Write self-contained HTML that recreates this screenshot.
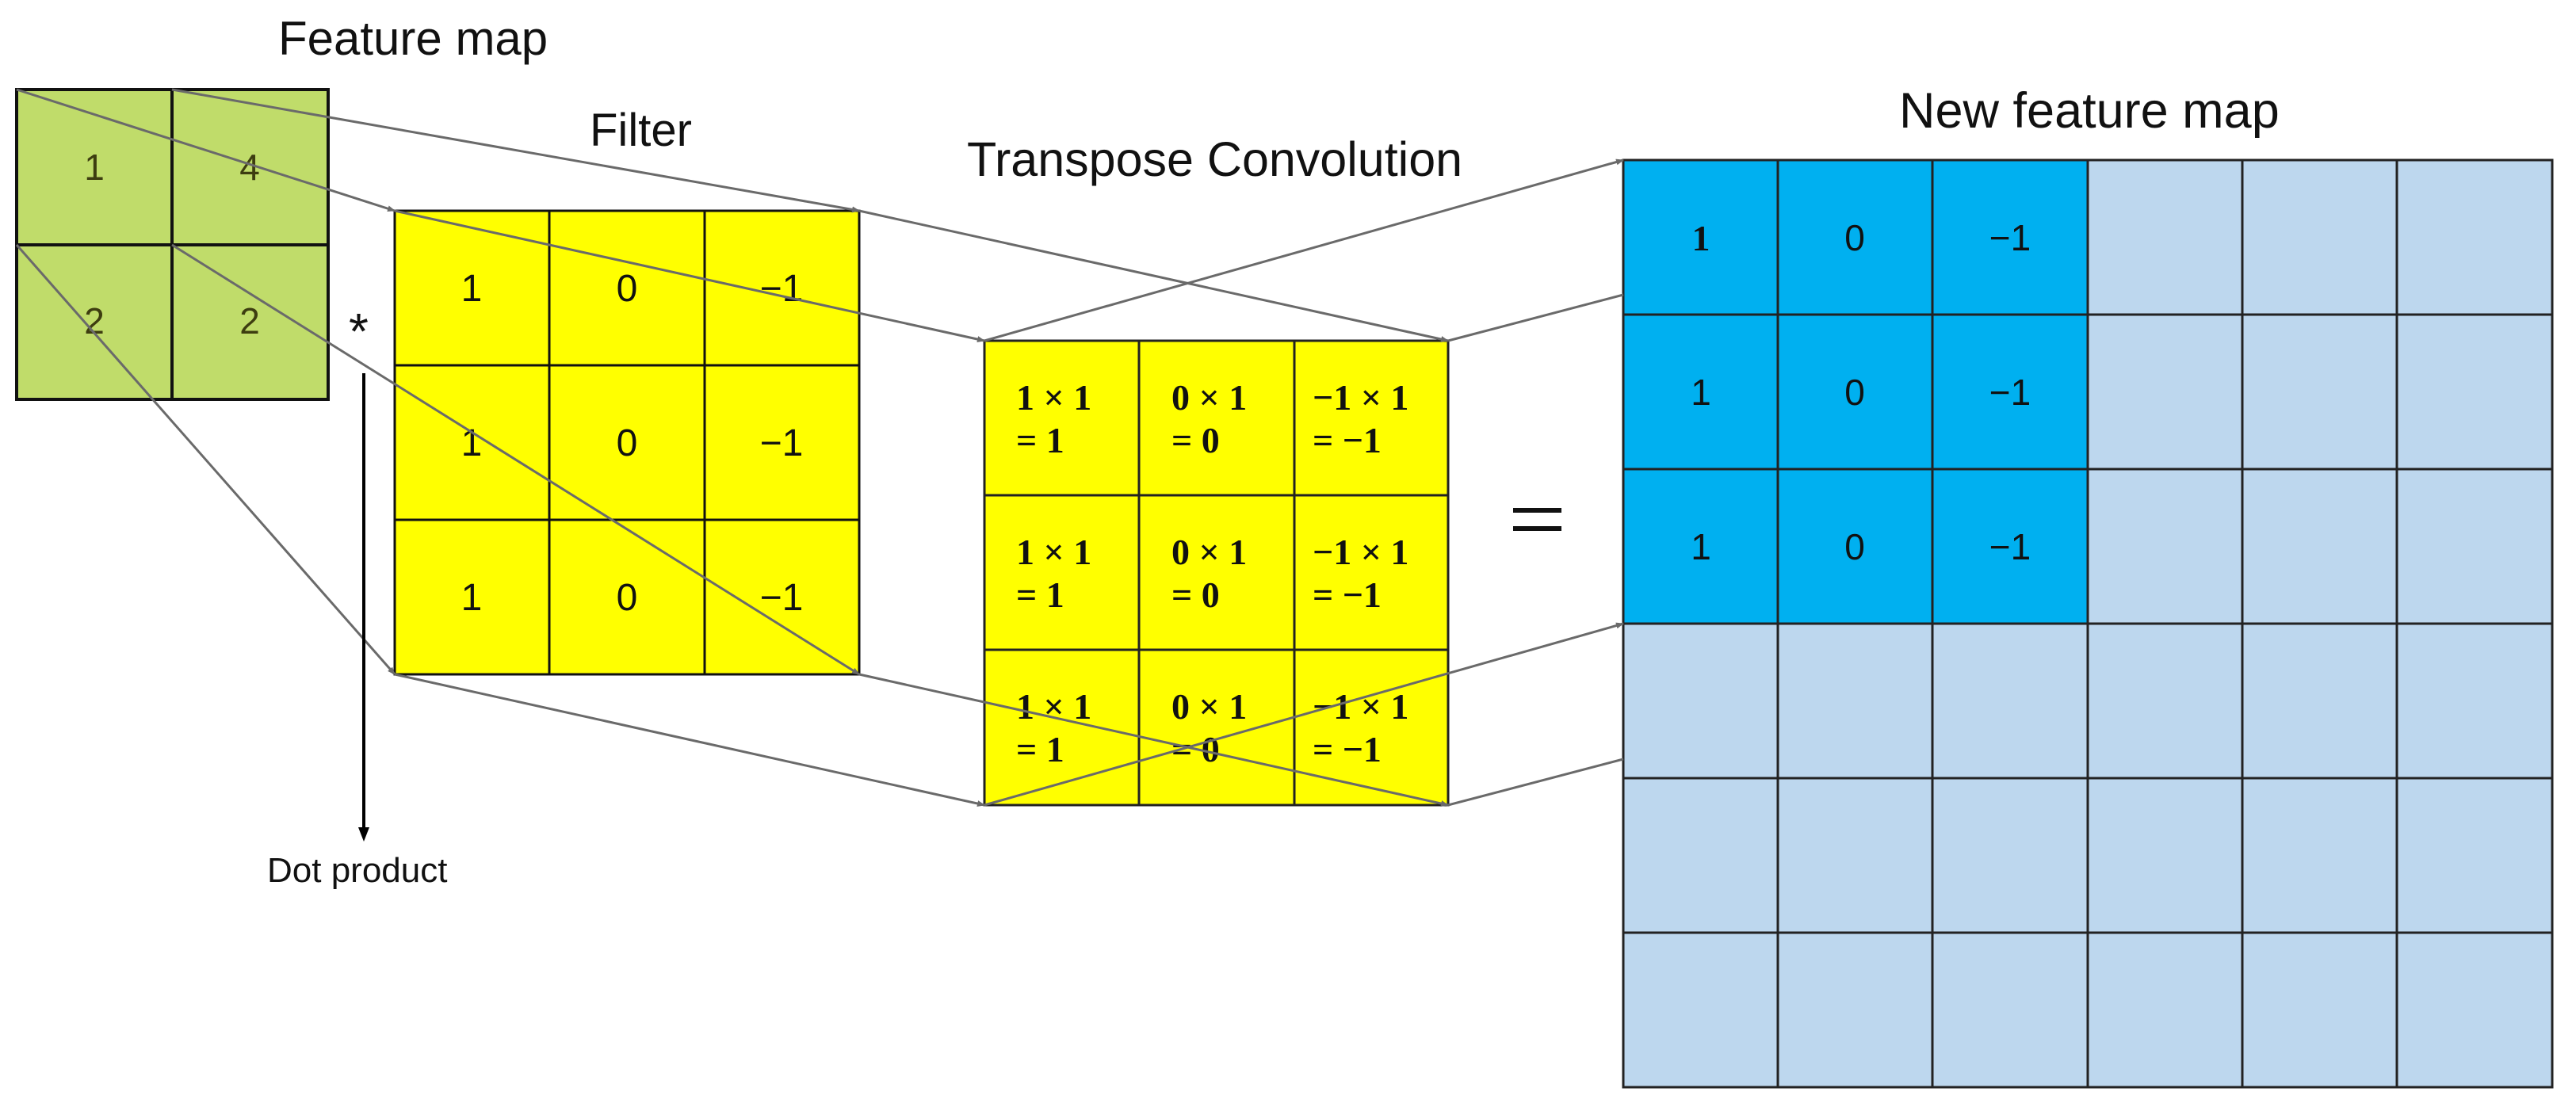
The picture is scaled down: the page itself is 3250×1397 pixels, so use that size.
<!DOCTYPE html>
<html><head><meta charset="utf-8"><style>
html,body{margin:0;padding:0;background:#fff;}
svg{display:block;}
</style></head><body>
<svg width="3250" height="1397" viewBox="0 0 3250 1397" xmlns="http://www.w3.org/2000/svg">
<defs>
<marker id="ah" markerWidth="10" markerHeight="10" refX="9" refY="5" orient="auto" markerUnits="userSpaceOnUse" viewBox="0 0 10 10">
<path d="M0,1 L10,5 L0,9 z" fill="#6a6a6a"/>
</marker>
<marker id="ah2" markerWidth="18" markerHeight="18" refX="9" refY="9" orient="auto" markerUnits="userSpaceOnUse" viewBox="0 0 18 18">
<path d="M0,2 L18,9 L0,16 z" fill="#000"/>
</marker>
</defs>

<g font-family="Liberation Sans, sans-serif" fill="#111">
<text x="351" y="69" font-size="60">Feature map</text>
<text x="744" y="184" font-size="58">Filter</text>
<text x="1220" y="222" font-size="61">Transpose Convolution</text>
<text x="2396" y="161" font-size="63">New feature map</text>
<text x="337" y="1113" font-size="44">Dot product</text>
<text x="440" y="440" font-size="64">*</text>
</g>

<!-- Feature map -->
<rect x="21" y="113" width="393" height="391" fill="#c0dc6a" stroke="#111" stroke-width="4"/>
<line x1="217" y1="113" x2="217" y2="504" stroke="#111" stroke-width="4"/>
<line x1="21" y1="309" x2="414" y2="309" stroke="#111" stroke-width="4"/>
<g font-family="Liberation Sans, sans-serif" font-size="46" fill="#3d3d10" text-anchor="middle">
<text x="119" y="227">1</text><text x="315" y="227">4</text>
<text x="119" y="421">2</text><text x="315" y="421">2</text>
</g>

<!-- Filter -->
<rect x="498" y="266" width="586" height="585" fill="#ffff00" stroke="#111" stroke-width="3"/>
<g stroke="#111" stroke-width="3">
<line x1="693" y1="266" x2="693" y2="851"/><line x1="889" y1="266" x2="889" y2="851"/>
<line x1="498" y1="461" x2="1084" y2="461"/><line x1="498" y1="656" x2="1084" y2="656"/>
</g>
<g font-family="Liberation Sans, sans-serif" font-size="48" fill="#111" text-anchor="middle">
<text x="595" y="380">1</text><text x="791" y="380">0</text><text x="986" y="380">−1</text>
<text x="595" y="575">1</text><text x="791" y="575">0</text><text x="986" y="575">−1</text>
<text x="595" y="770">1</text><text x="791" y="770">0</text><text x="986" y="770">−1</text>
</g>

<!-- Transpose conv -->
<rect x="1242" y="430" width="585" height="586" fill="#ffff00" stroke="#222" stroke-width="3"/>
<g stroke="#222" stroke-width="3">
<line x1="1437" y1="430" x2="1437" y2="1016"/><line x1="1633" y1="430" x2="1633" y2="1016"/>
<line x1="1242" y1="625" x2="1827" y2="625"/><line x1="1242" y1="820" x2="1827" y2="820"/>
</g>
<g font-family="Liberation Serif, serif" font-weight="bold" font-size="46" fill="#111">
<text x="1282" y="517">1 × 1</text><text x="1282" y="571">= 1</text>
<text x="1478" y="517">0 × 1</text><text x="1478" y="571">= 0</text>
<text x="1656" y="517">−1 × 1</text><text x="1656" y="571">= −1</text>
<text x="1282" y="712">1 × 1</text><text x="1282" y="766">= 1</text>
<text x="1478" y="712">0 × 1</text><text x="1478" y="766">= 0</text>
<text x="1656" y="712">−1 × 1</text><text x="1656" y="766">= −1</text>
<text x="1282" y="907">1 × 1</text><text x="1282" y="961">= 1</text>
<text x="1478" y="907">0 × 1</text><text x="1478" y="961">= 0</text>
<text x="1656" y="907">−1 × 1</text><text x="1656" y="961">= −1</text>
</g>
<!-- equals -->
<rect x="1909" y="641" width="61" height="6" fill="#111"/>
<rect x="1909" y="664" width="61" height="6" fill="#111"/>

<!-- New feature map -->
<rect x="2048" y="202" width="1172" height="1170" fill="#bdd7ee"/>
<rect x="2048" y="202" width="586" height="585" fill="#00b0f0"/>
<g stroke="#222" stroke-width="3">
<rect x="2048" y="202" width="1172" height="1170" fill="none"/>
<line x1="2243" y1="202" x2="2243" y2="1372"/><line x1="2438" y1="202" x2="2438" y2="1372"/>
<line x1="2634" y1="202" x2="2634" y2="1372"/><line x1="2829" y1="202" x2="2829" y2="1372"/>
<line x1="3024" y1="202" x2="3024" y2="1372"/>
<line x1="2048" y1="397" x2="3220" y2="397"/><line x1="2048" y1="592" x2="3220" y2="592"/>
<line x1="2048" y1="787" x2="3220" y2="787"/><line x1="2048" y1="982" x2="3220" y2="982"/>
<line x1="2048" y1="1177" x2="3220" y2="1177"/>
</g>
<g font-family="Liberation Sans, sans-serif" font-size="46" fill="#111" text-anchor="middle">
<text x="2146" y="316" font-family="Liberation Serif, serif" font-weight="bold">1</text>
<text x="2340" y="316">0</text><text x="2536" y="316">−1</text>
<text x="2146" y="511">1</text><text x="2340" y="511">0</text><text x="2536" y="511">−1</text>
<text x="2146" y="706">1</text><text x="2340" y="706">0</text><text x="2536" y="706">−1</text>
</g>

<!-- connectors -->
<g stroke="#6a6a6a" stroke-width="3" fill="none" marker-end="url(#ah)">
<line x1="21" y1="113" x2="498" y2="266"/>
<line x1="217" y1="113" x2="1084" y2="266"/>
<line x1="21" y1="309" x2="498" y2="851"/>
<line x1="217" y1="309" x2="1084" y2="851"/>
<line x1="498" y1="266" x2="1242" y2="430"/>
<line x1="1084" y1="266" x2="1827" y2="430"/>
<line x1="498" y1="851" x2="1242" y2="1016"/>
<line x1="1084" y1="851" x2="1827" y2="1016"/>
<line x1="1242" y1="430" x2="2048" y2="202"/>
<line x1="1242" y1="1016" x2="2048" y2="787"/>
</g>
<g stroke="#6a6a6a" stroke-width="3" fill="none">
<line x1="1827" y1="430" x2="2048" y2="372"/>
<line x1="1827" y1="1016" x2="2048" y2="958"/>
</g>

<!-- dot product arrow -->
<line x1="459" y1="471" x2="459" y2="1053" stroke="#000" stroke-width="4" marker-end="url(#ah2)"/>
</svg>
</body></html>
